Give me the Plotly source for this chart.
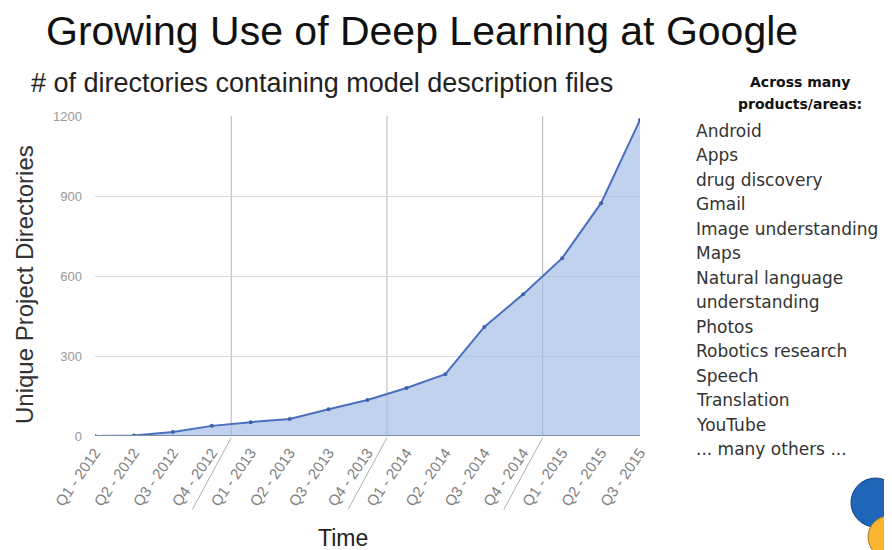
import plotly.graph_objects as go

quarters = ["Q1 - 2012", "Q2 - 2012", "Q3 - 2012", "Q4 - 2012",
            "Q1 - 2013", "Q2 - 2013", "Q3 - 2013", "Q4 - 2013",
            "Q1 - 2014", "Q2 - 2014", "Q3 - 2014", "Q4 - 2014",
            "Q1 - 2015", "Q2 - 2015", "Q3 - 2015"]
directories = [0, 2, 15, 38, 52, 64, 100, 135, 180, 232, 409, 532, 667, 873, 1185]
y_ticks = [0, 300, 600, 900, 1200]
areas = ["Android", "Apps", "drug discovery", "Gmail", "Image understanding",
         "Maps", "Natural language", "understanding", "Photos",
         "Robotics research", "Speech", "Translation", "YouTube",
         "... many others ..."]

OFF = 8  # page body margin offset
W, H = 892 - OFF, 550 - OFF
PL, PT, PR, PB = 95, 116, 640, 436  # plot area in screen pixels
L, T = PL - OFF, PT - OFF
PW, PH = PR - PL, PB - PT
R, B = W - L - PW, H - T - PH


def px(x):
    return (x - PL) / PW


def py(y):
    return (PB - y) / PH


idx = list(range(len(quarters)))
fig = go.Figure()
fig.add_trace(go.Scatter(
    x=idx, y=directories, mode="lines+markers",
    fill="tozeroy", fillcolor="rgba(160,186,230,0.65)",
    line=dict(color="#4a70bd", width=2),
    marker=dict(size=4, color="#3e63ad"),
    showlegend=False, hoverinfo="skip"))

shapes = []
# year boundaries (between Q4 and Q1)
for i in range(1, len(quarters)):
    if quarters[i].startswith("Q1"):
        b = i - 0.5
        shapes.append(dict(type="line", xref="x", yref="y", x0=b, x1=b, y0=0, y1=1200,
                           line=dict(color="#b4b4b4", width=1), layer="below"))
        shapes.append(dict(type="line", xref="x", yref="paper", x0=b, x1=b - 1.0,
                           y0=-0.005, y1=-0.23, line=dict(color="#b0b0b0", width=1)))
# baseline
shapes.append(dict(type="line", xref="paper", yref="y", x0=0, x1=1, y0=0, y1=0,
                   line=dict(color="#7f8fa8", width=2)))
# brain decoration
shapes.append(dict(type="circle", xref="paper", yref="paper",
                   x0=px(851), x1=px(900), y0=py(527), y1=py(478),
                   fillcolor="#1f66b8", line=dict(color="#1a3f7a", width=1)))
shapes.append(dict(type="circle", xref="paper", yref="paper",
                   x0=px(868), x1=px(910), y0=py(558), y1=py(516),
                   fillcolor="#f7b531", line=dict(color="#a77a20", width=1)))

ann = []
ann.append(dict(text="Growing Use of Deep Learning at Google", x=px(44), y=py(31),
                xref="paper", yref="paper", xanchor="left", yanchor="middle", showarrow=False,
                font=dict(family="Liberation Sans, Arial", size=41, color="#111")))
ann.append(dict(text="# of directories containing model description files", x=px(29), y=py(83),
                xref="paper", yref="paper", xanchor="left", yanchor="middle", showarrow=False,
                font=dict(family="Liberation Sans, Arial", size=27, color="#222")))
ann.append(dict(text="<b>Across many</b>", x=px(800), y=py(82),
                xref="paper", yref="paper", xanchor="center", yanchor="middle", showarrow=False,
                font=dict(family="DejaVu Sans, Verdana", size=14, color="#111")))
ann.append(dict(text="<b>products/areas:</b>", x=px(800), y=py(104),
                xref="paper", yref="paper", xanchor="center", yanchor="middle", showarrow=False,
                font=dict(family="DejaVu Sans, Verdana", size=14, color="#111")))
for k, a in enumerate(areas):
    ann.append(dict(text=a, x=px(694), y=py(131 + k * 24.46),
                    xref="paper", yref="paper", xanchor="left", yanchor="middle",
                    showarrow=False,
                    font=dict(family="DejaVu Sans, Verdana", size=17, color="#333")))
ann.append(dict(text="Unique Project Directories", x=px(24), y=py(285), textangle=-90,
                xref="paper", yref="paper", xanchor="center", yanchor="middle", showarrow=False,
                font=dict(family="Liberation Sans, Arial", size=24, color="#333")))
ann.append(dict(text="Time", x=px(343), y=py(538),
                xref="paper", yref="paper", xanchor="center", yanchor="middle", showarrow=False,
                font=dict(family="Liberation Sans, Arial", size=23, color="#222")))

fig.update_layout(
    width=W, height=H, margin=dict(l=L, r=R, t=T, b=B, autoexpand=False),
    paper_bgcolor="white", plot_bgcolor="white",
    shapes=shapes, annotations=ann,
    xaxis=dict(range=[0, len(quarters) - 1], tickmode="array", tickvals=idx, ticktext=quarters,
               tickangle=-55, showgrid=False, zeroline=False, showline=False,
               ticklabelstandoff=4,
               tickfont=dict(family="Liberation Sans, Arial", size=15, color="#808080")),
    yaxis=dict(range=[0, 1200], tickmode="array", tickvals=y_ticks,
               showgrid=True, gridcolor="#dcdcdc", gridwidth=1, zeroline=False,
               ticklabelstandoff=12,
               tickfont=dict(family="Liberation Sans, Arial", size=13, color="#999")),
)
fig.write_html("out.html")
